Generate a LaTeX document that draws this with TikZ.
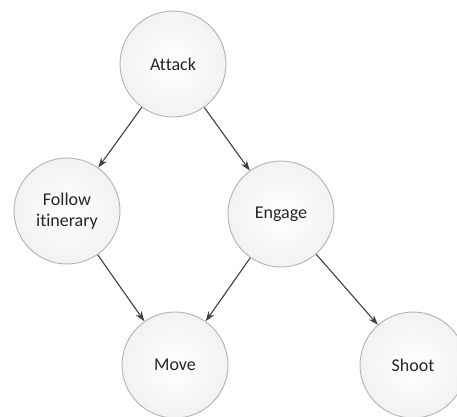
\documentclass[tikz,border=0pt]{standalone}
\usepackage{fontspec}
\setmainfont[Ligatures=NoCommon]{Carlito}
\usepackage{tikz}
\usetikzlibrary{arrows.meta}

\begin{document}
\begin{tikzpicture}[x=1pt, y=-1pt,
    task/.style={circle, draw=gray!60, line width=0.9pt, minimum size=106pt, inner sep=0pt,
        align=center, font=\fontsize{18}{21}\selectfont, text=black!85,
        shading=radial, inner color=white, outer color=gray!10},
    link/.style={-{Stealth[length=10pt, width=7pt]}, draw=black!75, line width=1.1pt}]
    \useasboundingbox (0, 0) rectangle (457, 416);
    \clip (0, 0) rectangle (457, 416);

    \node[task] (attack) at (173, 64) {Attack};
    \node[task] (follow) at (67, 211) {Follow\\itinerary};
    \node[task] (engage) at (281, 214) {Engage};
    \node[task] (move) at (175, 365) {Move};
    \node[task] (shoot) at (413, 365) {Shoot};

    \draw [link] (attack) -- (follow);
    \draw [link] (attack) -- (engage);
    \draw [link] (follow) -- (move);
    \draw [link] (engage) -- (move);
    \draw [link] (engage) -- (shoot);

\end{tikzpicture}
\end{document}
